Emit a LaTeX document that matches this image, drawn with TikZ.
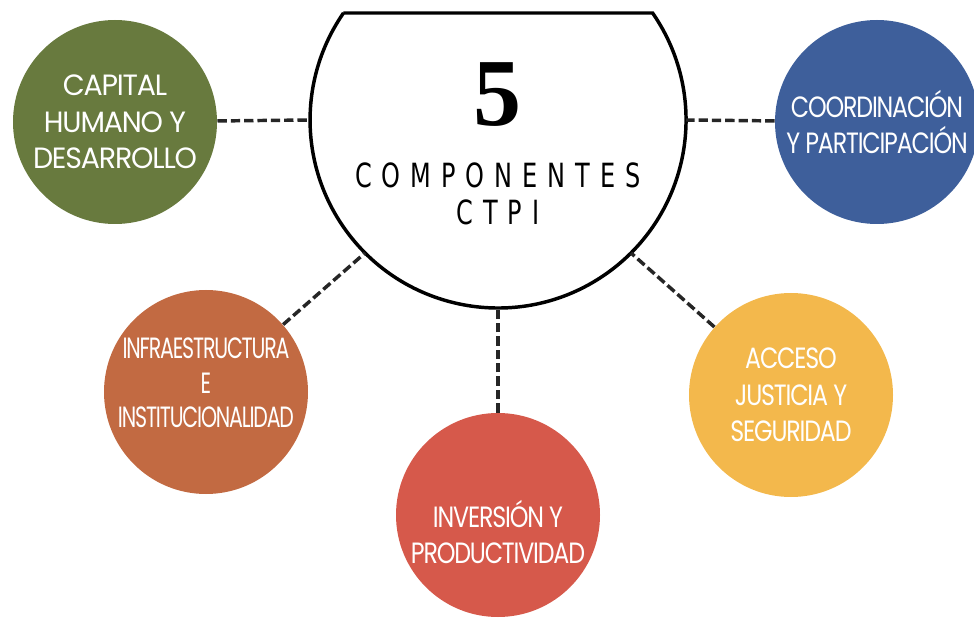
\documentclass[tikz,border=0pt]{standalone}
\usepackage{fontspec}
\setmainfont{Poppins}
\newfontfamily\fivefont{Liberation Serif}
\newfontfamily\titlefont[FakeStretch=0.72,LetterSpace=30]{DejaVu Sans}
\newfontfamily\compfont[FakeStretch=0.81,LetterSpace=-4]{Poppins}
\newfontfamily\compwidefont[FakeStretch=0.97,LetterSpace=-4]{Poppins}
\newfontfamily\compnarrowfont[FakeStretch=0.70,LetterSpace=-4]{Poppins}
\definecolor{capgreen}{RGB}{104,122,62}
\definecolor{coordblue}{RGB}{62,95,155}
\definecolor{infrabrown}{RGB}{194,106,66}
\definecolor{invred}{RGB}{214,89,75}
\definecolor{accyellow}{RGB}{243,184,76}

\tikzset{every picture/.style={line width=0.75pt}}

\begin{document}
\begin{tikzpicture}[x=0.75pt,y=0.75pt,yscale=-1,xscale=1,
  comp/.style={circle,minimum size=153pt,inner sep=0pt,text=white,align=center,
    font=\compfont\fontsize{22}{27.5}\selectfont},
  comptext/.style={text=white,align=center,inner sep=0pt,
    font=\compfont\fontsize{22}{27.5}\selectfont},
  link/.style={dash pattern=on 7pt off 3pt,line width=2.6pt,draw=black!85}]
  \useasboundingbox (0,0) rectangle (974,623);

  %central bowl
  \coordinate (hub) at (498,120);
  \draw [line width=2.6pt,fill=white] (343.4,13) -- (652.6,13) arc[start angle=-34.7,end angle=214.7,radius=188] -- cycle;
  \path (hub) ++(180:188) coordinate (hubW);
  \path (hub) ++(0:188) coordinate (hubE);
  \path (hub) ++(135:188) coordinate (hubSW);
  \path (hub) ++(45:188) coordinate (hubSE);
  \path (hub) ++(90:188) coordinate (hubS);

  \node [font=\fivefont\bfseries\fontsize{72}{72}\selectfont] (five) at (497,95) {5};
  \node [font=\titlefont\fontsize{25}{28}\selectfont] (title) at (498,175) {COMPONENTES};
  \node [font=\titlefont\fontsize{25}{28}\selectfont] (ctpi) at (498,212) {CTPI};

  %components
  \node [comp,fill=capgreen,font=\compwidefont\fontsize{22}{27.5}\selectfont] (capital) at (115,122) {CAPITAL\\HUMANO Y\\DESARROLLO};
  \node [comp,fill=coordblue] (coord) at (877,122) {COORDINACIÓN\\Y PARTICIPACIÓN};
  \node [comp,fill=infrabrown] (infra) at (206,392) {};
  \path (infra) ++(0,-9) node [comptext,font=\compnarrowfont\fontsize{22}{26}\selectfont] (infralabel) {INFRAESTRUCTURA\\E\\INSTITUCIONALIDAD};
  \node [comp,fill=invred] (inv) at (498,515) {};
  \path (inv) ++(0,17) node [comptext] (invlabel) {INVERSIÓN Y\\PRODUCTIVIDAD};
  \node [comp,fill=accyellow] (acceso) at (791,395) {ACCESO\\JUSTICIA Y\\SEGURIDAD};

  \draw [link] (capital) -- (hubW);
  \draw [link] (coord) -- (hubE);
  \draw [link] (infra) -- (hubSW);
  \draw [link] (inv) -- (hubS);
  \draw [link] (acceso) -- (hubSE);

\end{tikzpicture}
\end{document}
